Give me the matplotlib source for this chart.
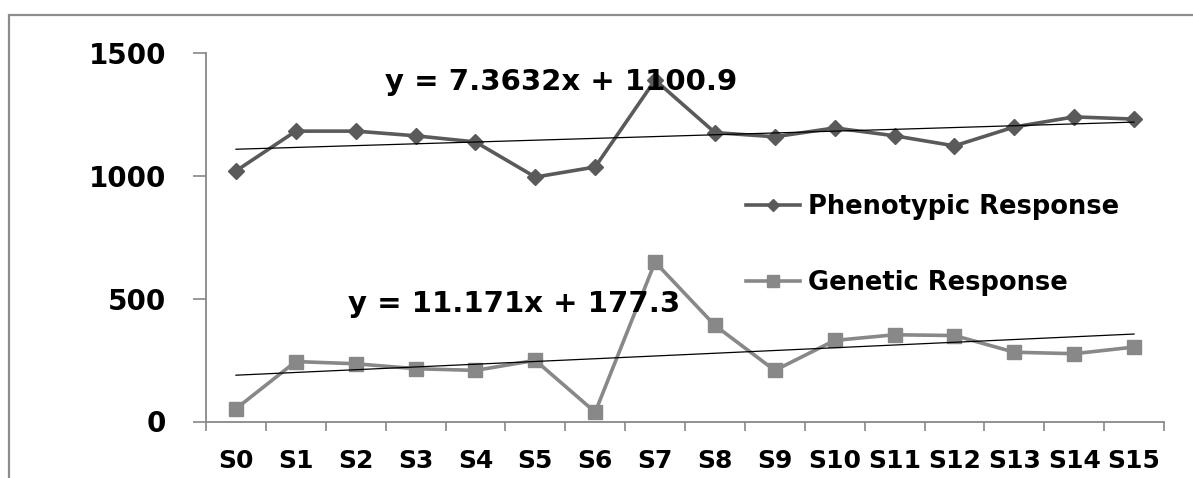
import matplotlib
matplotlib.use("Agg")
from matplotlib import pyplot as plt
from matplotlib.patches import Rectangle
import numpy as np

categories = ["S0", "S1", "S2", "S3", "S4", "S5", "S6", "S7",
              "S8", "S9", "S10", "S11", "S12", "S13", "S14", "S15"]
phenotypic = [1020, 1182, 1182, 1163, 1138, 995, 1036, 1390,
              1176, 1159, 1195, 1163, 1122, 1199, 1240, 1231]
genetic = [52, 244, 235, 215, 208, 249, 38, 649,
           391, 208, 330, 353, 350, 282, 276, 303]
pheno_slope, pheno_icpt = 7.3632, 1100.9
gen_slope, gen_icpt = 11.171, 177.3
y_ticks = [0, 500, 1000, 1500]


def main():
    plt.rcParams["font.family"] = "DejaVu Sans"
    plt.rcParams["font.weight"] = "bold"
    W, H = 1193, 478
    fig = plt.figure(figsize=(W / 100, H / 100), dpi=100)
    ax = fig.add_axes([206 / W, 1 - 421.5 / H, 958 / W, 368.5 / H])

    x = np.arange(len(categories))
    dark = "#5a5a5a"
    light = "#888888"
    ax.plot(x, phenotypic, color=dark, lw=2.6, marker="D", ms=8,
            label="Phenotypic Response", zorder=3)
    ax.plot(x, genetic, color=light, lw=2.6, marker="s", ms=10,
            label="Genetic Response", zorder=3)

    # linear trendlines, x counted from 1
    ax.plot(x, pheno_slope * (x + 1) + pheno_icpt, color="black", lw=0.9,
            zorder=4)
    ax.plot(x, gen_slope * (x + 1) + gen_icpt, color="black", lw=0.9,
            zorder=4)

    ax.set_xlim(-0.5, len(categories) - 0.5)
    ax.set_ylim(0, 1500)
    ax.set_yticks(y_ticks)
    ax.set_yticklabels([str(v) for v in y_ticks], fontsize=20,
                       fontweight="bold")
    ax.set_xticks(x)
    ax.set_xticklabels(categories, fontsize=18, fontweight="bold")
    ax.set_xticks(np.arange(len(categories) + 1) - 0.5, minor=True)
    ax.tick_params(axis="x", which="major", length=0, pad=20)
    ax.tick_params(axis="x", which="minor", length=6.5, width=1.2,
                   color="#888888", direction="out")
    ax.tick_params(axis="y", length=9.5, width=1.2, color="#888888",
                   pad=19)
    for side in ["top", "right"]:
        ax.spines[side].set_visible(False)
    for side in ["left", "bottom"]:
        ax.spines[side].set_color("#888888")
        ax.spines[side].set_linewidth(1.3)

    fig.text(385 / W, 1 - 90 / H, "y = 7.3632x + 1100.9", fontsize=21,
             fontweight="bold", ha="left", va="baseline")
    fig.text(348 / W, 1 - 312 / H, "y = 11.171x + 177.3", fontsize=21,
             fontweight="bold", ha="left", va="baseline")

    fig.legend(loc="upper left", bbox_to_anchor=(746 / W, 1 - 194 / H),
               frameon=False, fontsize=18.5, handlelength=2.1,
               handletextpad=0.3, labelspacing=1.95, borderpad=0,
               borderaxespad=0, markerscale=0.8)

    fig.patches.append(Rectangle((9 / W, -0.1), 1.2, 1 - 15 / H + 0.1,
                                 transform=fig.transFigure, fill=False,
                                 edgecolor="#8c8c8c", lw=1.6))
    fig.savefig("out.png", dpi=100)


if __name__ == "__main__":
    main()
